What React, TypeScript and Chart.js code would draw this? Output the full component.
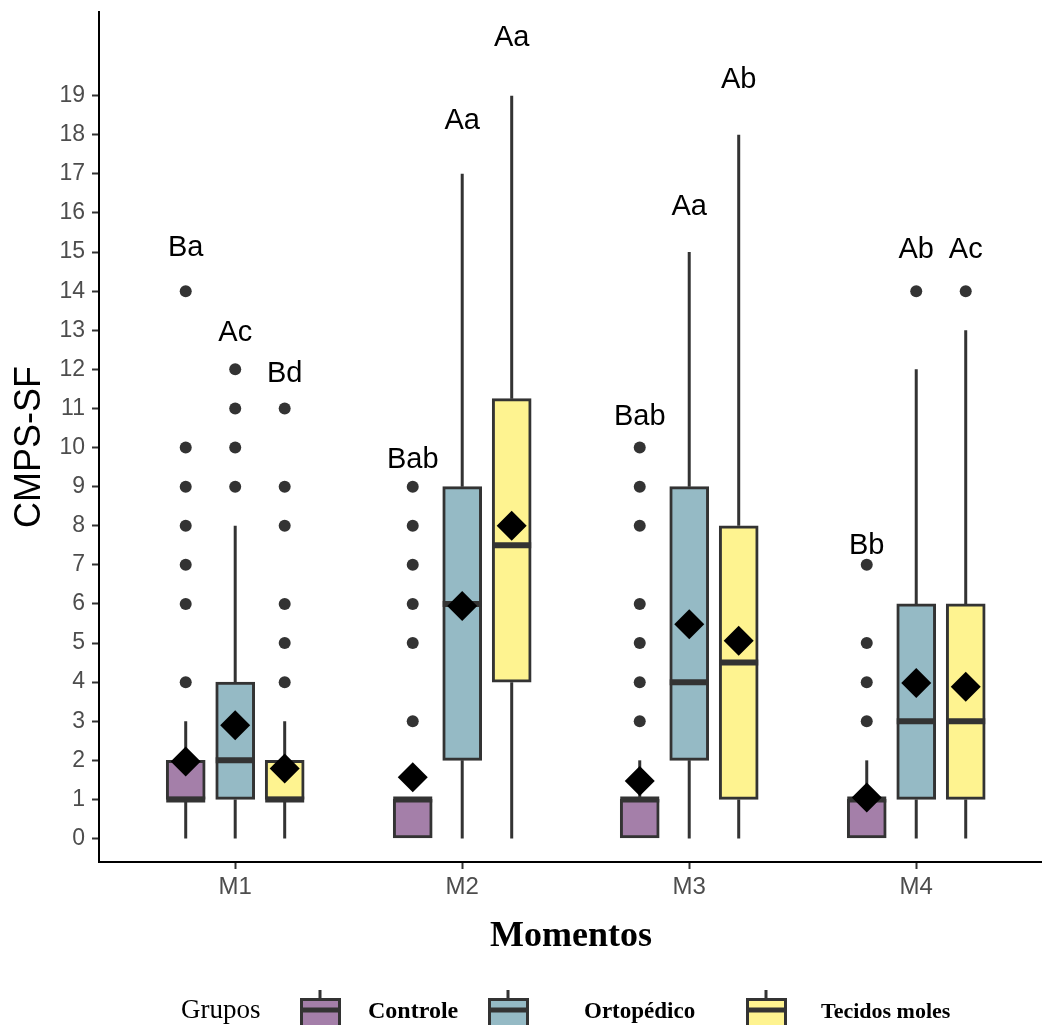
import React, { useEffect, useRef } from "react";
import { Chart, registerables } from "chart.js";

Chart.register(...registerables);

const moments = ["M1", "M2", "M3", "M4"];
const groups = ["Controle", "Ortopédico", "Tecidos moles"];
const groupColors = ["#A47FA9", "#95BAC5", "#FEF390"];
const groupOffsets = [-0.218, 0, 0.218];

// per group, per moment
const q1 = [
  [1, 0, 0, 0],
  [1, 2, 2, 1],
  [1, 4, 1, 1],
];
const medians = [
  [1, 1, 1, 1],
  [2, 6, 4, 3],
  [1, 7.5, 4.5, 3],
];
const q3 = [
  [2, 1, 1, 1],
  [4, 9, 9, 6],
  [2, 11.25, 8, 6],
];
const whiskerLow = [
  [0, 0, 0, 0],
  [0, 0, 0, 0],
  [0, 0, 0, 0],
];
const whiskerHigh = [
  [3, 1, 2, 2],
  [8, 17, 15, 12],
  [3, 19, 18, 13],
];
const means = [
  [1.97, 1.57, 1.47, 1.05],
  [2.9, 5.95, 5.48, 3.98],
  [1.79, 8.0, 5.06, 3.88],
];
const outliers = [
  [[4, 6, 7, 8, 9, 10, 14], [3, 5, 6, 7, 8, 9], [3, 4, 5, 6, 8, 9, 10], [3, 4, 5, 7]],
  [[9, 10, 11, 12], [], [], [14]],
  [[4, 5, 6, 8, 9, 11], [], [], [14]],
];
const letters = [
  ["Ba", "Bab", "Bab", "Bb"],
  ["Ac", "Aa", "Aa", "Ab"],
  ["Bd", "Aa", "Ab", "Ac"],
];
const letterY = [
  [15.1, 9.67, 10.79, 7.47],
  [12.94, 18.34, 16.14, 15.05],
  [11.87, 20.47, 19.41, 15.05],
];
const yTicks = Array.from({ length: 20 }, (_, i) => i);

const BOX_W = 39;
const DARK = "#333333";

export default function App() {
  const ref = useRef<HTMLCanvasElement>(null);

  useEffect(() => {
    if (!ref.current) return;

    const barSets = groups.map((g, gi) => ({
      type: "bar" as const,
      label: g,
      data: moments.map((_, mi) => ({
        x: mi + 1 + groupOffsets[gi],
        y: [q1[gi][mi], q3[gi][mi]],
      })),
      backgroundColor: groupColors[gi],
      borderColor: DARK,
      borderWidth: 3,
      borderSkipped: false,
      barThickness: BOX_W,
      grouped: false,
      order: 3,
    }));

    const outlierPts: { x: number; y: number }[] = [];
    groups.forEach((_, gi) =>
      moments.forEach((__, mi) =>
        outliers[gi][mi].forEach((v) => outlierPts.push({ x: mi + 1 + groupOffsets[gi], y: v }))
      )
    );
    const meanPts: { x: number; y: number }[] = [];
    groups.forEach((_, gi) =>
      moments.forEach((__, mi) => meanPts.push({ x: mi + 1 + groupOffsets[gi], y: means[gi][mi] }))
    );

    const extras = {
      id: "boxExtras",
      beforeDatasetsDraw(chart: any) {
        const { ctx, scales } = chart;
        const xs = scales.x, ys = scales.y;
        ctx.save();
        ctx.strokeStyle = DARK;
        ctx.lineWidth = 3;
        groups.forEach((_, gi) =>
          moments.forEach((__, mi) => {
            const px = xs.getPixelForValue(mi + 1 + groupOffsets[gi]);
            ctx.beginPath();
            ctx.moveTo(px, ys.getPixelForValue(whiskerLow[gi][mi]));
            ctx.lineTo(px, ys.getPixelForValue(q1[gi][mi]));
            ctx.moveTo(px, ys.getPixelForValue(q3[gi][mi]));
            ctx.lineTo(px, ys.getPixelForValue(whiskerHigh[gi][mi]));
            ctx.stroke();
          })
        );
        ctx.restore();
      },
      beforeDatasetDraw(chart: any, args: any) {
        if (args.index !== 4) return;
        const { ctx, scales } = chart;
        const xs = scales.x, ys = scales.y;
        ctx.save();
        ctx.strokeStyle = DARK;
        ctx.lineWidth = 6;
        groups.forEach((_, gi) =>
          moments.forEach((__, mi) => {
            const px = xs.getPixelForValue(mi + 1 + groupOffsets[gi]);
            const py = ys.getPixelForValue(medians[gi][mi]);
            ctx.beginPath();
            ctx.moveTo(px - BOX_W / 2, py);
            ctx.lineTo(px + BOX_W / 2, py);
            ctx.stroke();
          })
        );
        ctx.restore();
      },
      afterDraw(chart: any) {
        const { ctx, scales } = chart;
        const xs = scales.x, ys = scales.y;
        ctx.save();
        // letters
        ctx.fillStyle = "#000";
        ctx.font = '29px "Liberation Sans", Arial, sans-serif';
        ctx.textAlign = "center";
        ctx.textBaseline = "middle";
        groups.forEach((_, gi) =>
          moments.forEach((__, mi) => {
            ctx.fillText(
              letters[gi][mi],
              xs.getPixelForValue(mi + 1 + groupOffsets[gi]),
              ys.getPixelForValue(letterY[gi][mi])
            );
          })
        );
        // y title
        ctx.save();
        ctx.translate(30, 447);
        ctx.rotate(-Math.PI / 2);
        ctx.font = '36px "Liberation Sans", Arial, sans-serif';
        ctx.fillText("CMPS-SF", 0, 0);
        ctx.restore();
        // x title
        ctx.textBaseline = "alphabetic";
        ctx.font = 'bold 36px "Liberation Serif", serif';
        ctx.fillText("Momentos", 571, 946);
        // legend
        ctx.textAlign = "left";
        ctx.font = '27px "Liberation Serif", serif';
        ctx.fillText("Grupos", 181, 1018);
        const keyX = [300, 488, 746];
        const labelX = [368, 584, 821];
        const labelSize = [24, 23, 22];
        groups.forEach((g, gi) => {
          const kx = keyX[gi];
          ctx.strokeStyle = DARK;
          ctx.lineWidth = 3;
          ctx.beginPath();
          ctx.moveTo(kx + 20, 990);
          ctx.lineTo(kx + 20, 999);
          ctx.stroke();
          ctx.fillStyle = groupColors[gi];
          ctx.fillRect(kx, 999, 41, 32);
          ctx.strokeRect(kx + 1.5, 999.5, 38, 32);
          ctx.lineWidth = 5;
          ctx.beginPath();
          ctx.moveTo(kx, 1010);
          ctx.lineTo(kx + 41, 1010);
          ctx.stroke();
          ctx.fillStyle = "#000";
          ctx.font = `bold ${labelSize[gi]}px "Liberation Serif", serif`;
          ctx.fillText(g, labelX[gi], 1018);
        });
        ctx.restore();
      },
    };

    const zeroPad = (s: any) => {
      s.paddingTop = 0;
      s.paddingBottom = 0;
      s.paddingLeft = 0;
      s.paddingRight = 0;
    };

    const chart = new Chart(ref.current, {
      type: "bar",
      data: {
        datasets: [
          ...barSets,
          {
            type: "scatter" as const,
            label: "outliers",
            data: outlierPts,
            pointRadius: 6,
            pointBackgroundColor: DARK,
            pointBorderWidth: 0,
            order: 2,
          } as any,
          {
            type: "scatter" as const,
            label: "means",
            data: meanPts,
            pointStyle: "rectRot",
            pointRadius: 15,
            pointBackgroundColor: "#000",
            pointBorderWidth: 0,
            order: 1,
          } as any,
        ],
      },
      options: {
        animation: false,
        responsive: false,
        devicePixelRatio: 1,
        layout: { autoPadding: false, padding: { top: 12, left: 0, right: 0, bottom: 0 } },
        plugins: { legend: { display: false }, tooltip: { enabled: false }, title: { display: false } },
        scales: {
          x: {
            type: "linear",
            offset: false,
            min: 0.4,
            max: 4.554,
            afterFit: (s: any) => {
              s.height = 163;
              zeroPad(s);
            },
            afterBuildTicks: (s: any) => {
              s.ticks = moments.map((_, i) => ({ value: i + 1 }));
            },
            ticks: {
              callback: (_v: any, i: number) => moments[i],
              font: { family: '"Liberation Sans", Arial, sans-serif', size: 24 },
              color: "#4D4D4D",
              padding: 4,
              maxRotation: 0,
            },
            grid: { offset: false, drawOnChartArea: false, drawTicks: true, tickLength: 7, tickColor: DARK, tickWidth: 2 },
            border: { display: true, color: "#000", width: 2 },
          },
          y: {
            type: "linear",
            min: -0.6,
            max: 21.14,
            afterFit: (s: any) => {
              s.width = 99;
              zeroPad(s);
            },
            afterBuildTicks: (s: any) => {
              s.ticks = yTicks.map((v) => ({ value: v }));
            },
            ticks: {
              callback: (v: any) => String(v),
              font: { family: '"Liberation Sans", Arial, sans-serif', size: 23 },
              color: "#4D4D4D",
              padding: 7,
            },
            grid: { drawOnChartArea: false, drawTicks: true, tickLength: 7, tickColor: DARK, tickWidth: 2 },
            border: { display: true, color: "#000", width: 2 },
          },
        },
      } as any,
      plugins: [extras],
    });

    return () => chart.destroy();
  }, []);

  return (
    <div style={{ position: "fixed", left: 0, top: 0, width: 1042, height: 1025, background: "#fff" }}>
      <canvas ref={ref} width={1042} height={1025} style={{ display: "block" }} />
    </div>
  );
}
